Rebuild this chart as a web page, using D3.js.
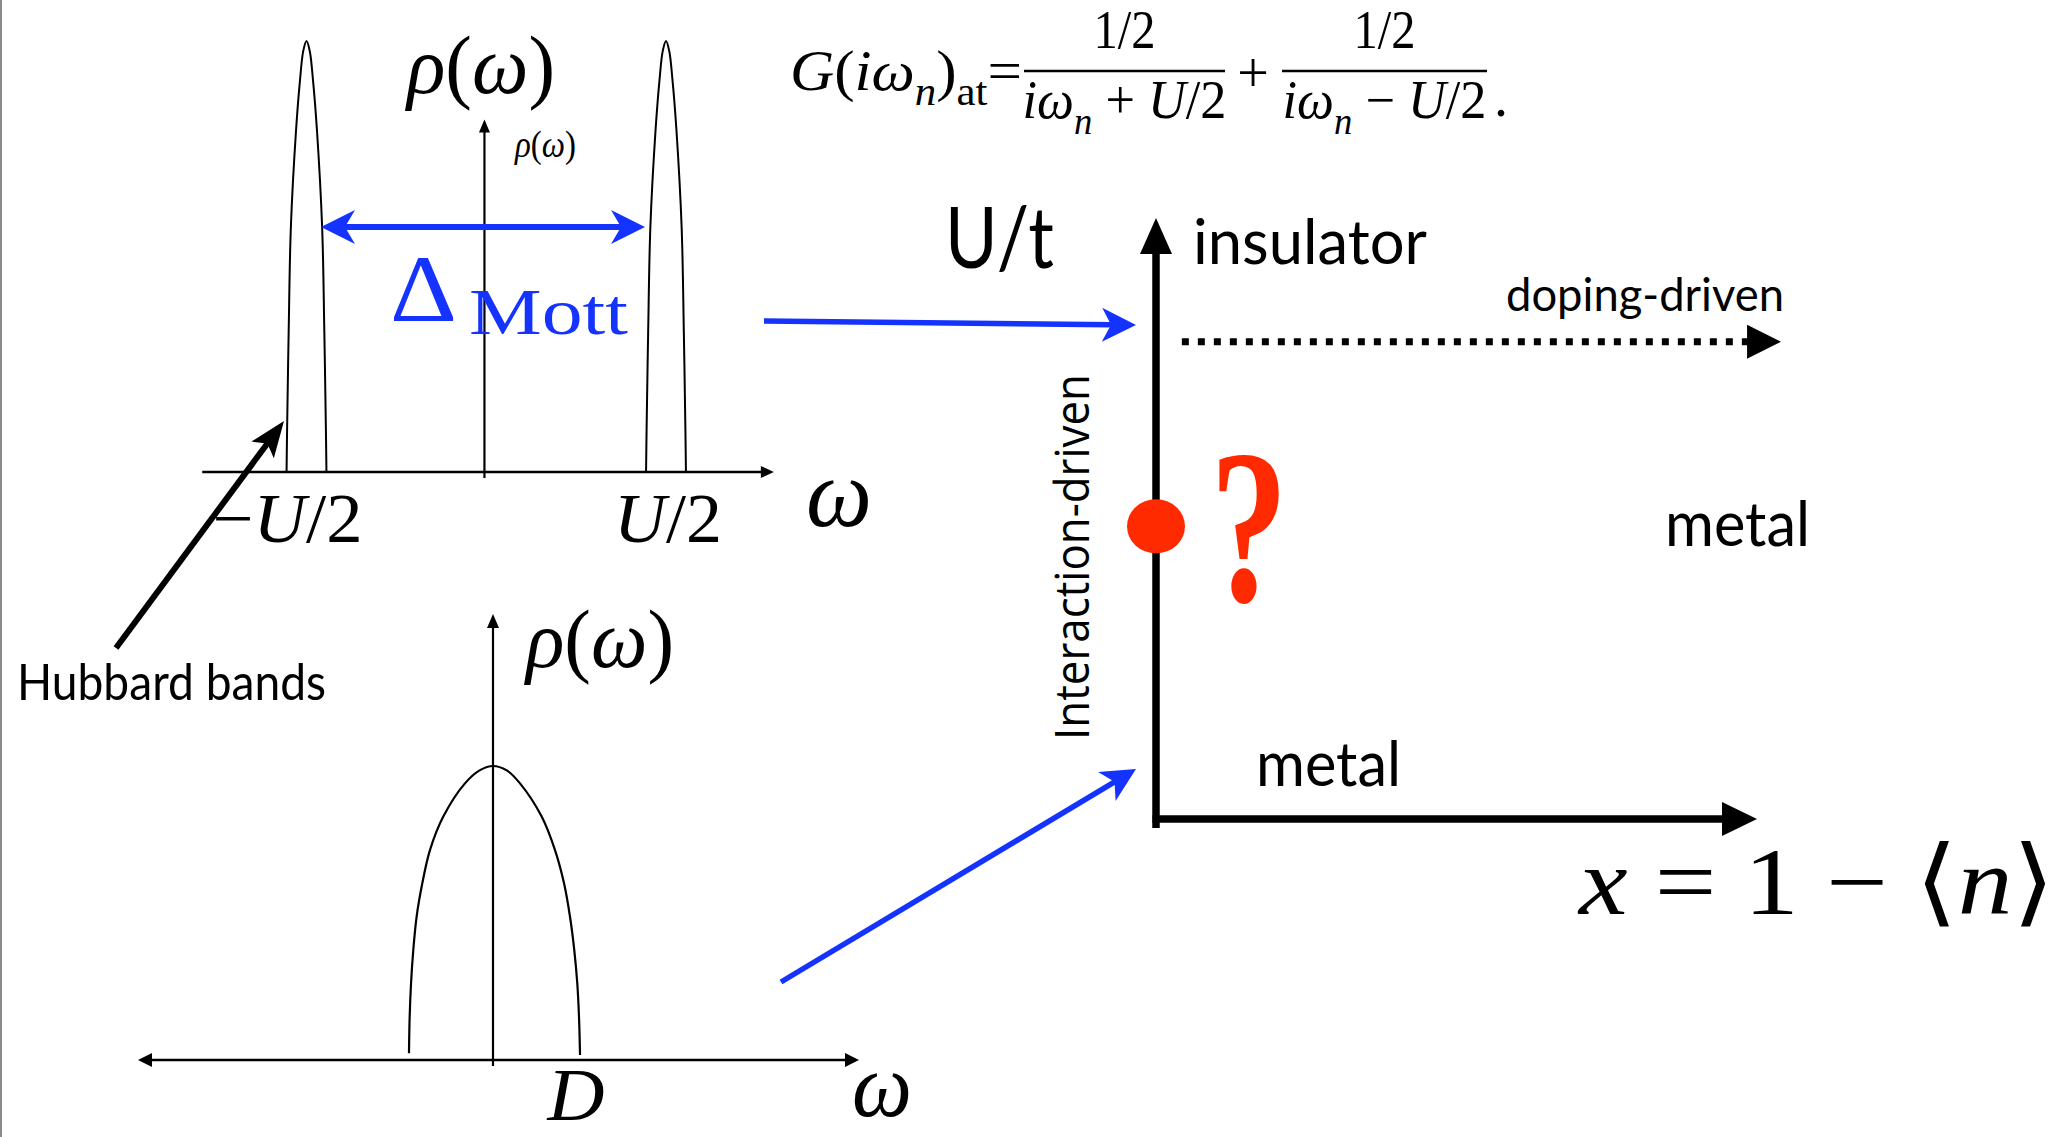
<!DOCTYPE html>
<html>
<head>
<meta charset="utf-8">
<script src="https://cdn.jsdelivr.net/npm/d3@7"></script>
<style>
  html, body { margin: 0; padding: 0; background: #fff; }
  svg { display: block; }
</style>
</head>
<body>
<svg id="chart" width="2072" height="1137"></svg>
<script>
// ---- data ----
// Hubbard bands: centres in units of U/2, shape of one band (offset, rho)
const hubbardCenters = [-1, 1]
const bandOffset = [-0.111, -0.108, -0.099, -0.087, -0.058, -0.036, -0.018, 0, 0.018, 0.036, 0.058, 0.087, 0.099, 0.108, 0.111]
const bandRho    = [0, 0.097, 0.33, 0.568, 0.794, 0.91, 0.977, 1, 0.977, 0.91, 0.794, 0.568, 0.33, 0.097, 0]
const topTickValues = [-1, 1]
const topTickLabels = [[["−", ""], ["U", "i"], ["/2", ""]], [["U", "i"], ["/2", ""]]]

// metallic band (omega in units of D)
const metalOmega = [-0.977, -0.969, -0.953, -0.927, -0.888, -0.822, -0.733, -0.578, -0.326, -0.151, 0, 0.16, 0.314, 0.566, 0.721, 0.826, 0.895, 0.945, 0.98, 1.0, 1.012]
const metalRho   = [0.023, 0.147, 0.261, 0.374, 0.488, 0.601, 0.714, 0.828, 0.941, 0.986, 1, 0.985, 0.941, 0.828, 0.714, 0.601, 0.488, 0.374, 0.261, 0.147, 0.017]
const botTickValues = [1]
const botTickLabels = ["D"]

// phase diagram: doping x, U/t (normalised)
const criticalX = [0]
const criticalU = [0.487]
const dopingArrowU = 0.794
const phaseLabels = ["insulator", "metal", "metal"]

const blue = "#1433ff", red = "#ff2a00"
const serif = "'Liberation Serif', 'DejaVu Serif', serif"
const sans = "Lato, 'Open Sans', sans-serif"

const svg = d3.select("#chart")
svg.append("rect").attr("width", 2072).attr("height", 1137).attr("fill", "#fff")
// thin grey edge on the left
svg.append("rect").attr("x", 0).attr("y", 0).attr("width", 2).attr("height", 1137).attr("fill", "#8a8a8a")

// arrow head, pointing at tip along angle ang
function head(g, tip, ang, len, half, notch, fill) {
    const c = Math.cos(ang), s = Math.sin(ang)
    const bx = tip[0] - c * len, by = tip[1] - s * len
    const p1 = [bx - s * half, by + c * half]
    const p2 = [bx + s * half, by - c * half]
    const n = [tip[0] - c * (len - notch), tip[1] - s * (len - notch)]
    g.append("path").attr("d", `M${tip}L${p1}L${n}L${p2}Z`).attr("fill", fill)
}

function arrow(g, from, to, {color = "#000", width = 2, len = 12, half = 6, notch = 0, dash = null, both = false} = {}) {
    const ang = Math.atan2(to[1] - from[1], to[0] - from[0])
    const back = len - notch - 1
    const end = [to[0] - Math.cos(ang) * back, to[1] - Math.sin(ang) * back]
    const start = both ? [from[0] + Math.cos(ang) * back, from[1] + Math.sin(ang) * back] : from
    const ln = g.append("line")
        .attr("x1", start[0]).attr("y1", start[1]).attr("x2", end[0]).attr("y2", end[1])
        .attr("stroke", color).attr("stroke-width", width)
    if (dash) ln.attr("stroke-dasharray", dash)
    head(g, to, ang, len, half, notch, color)
    if (both) head(g, from, ang + Math.PI, len, half, notch, color)
}

// math text built from tspans: style "i" italic, "s" subscript
function math(g, x, y, size, parts, {anchor = "start", len = null, fill = "#000", sub = 0.26} = {}) {
    const t = g.append("text").attr("x", x).attr("y", y)
        .attr("font-family", serif).attr("font-size", size)
        .attr("text-anchor", anchor).attr("fill", fill)
    let shift = 0
    parts.forEach(([s, st]) => {
        const sp = t.append("tspan").text(s)
        if (st.includes("i")) sp.attr("font-style", "italic")
        const want = st.includes("s") ? size * sub : 0
        if (want !== shift) { sp.attr("dy", want - shift); shift = want }
        if (st.includes("s")) sp.attr("font-size", size * 0.7)
    })
    if (len) t.attr("textLength", len).attr("lengthAdjust", "spacingAndGlyphs")
    return t
}

function label(g, x, y, s, size, len, {anchor = "start", family = sans, fill = "#000", rotate = 0, weight = null} = {}) {
    const t = g.append("text").attr("x", x).attr("y", y).text(s)
        .attr("font-family", family).attr("font-size", size)
        .attr("text-anchor", anchor).attr("fill", fill)
    if (weight) t.attr("font-weight", weight)
    if (len) t.attr("textLength", len).attr("lengthAdjust", "spacingAndGlyphs")
    if (rotate) t.attr("transform", `rotate(${rotate},${x},${y})`)
    return t
}

// ---- top panel: Hubbard bands ----
const gTop = svg.append("g")
const xTop = d3.scaleLinear().domain([-1, 1]).range([306.5, 666])
const yTop = d3.scaleLinear().domain([0, 1]).range([472, 41])

arrow(gTop, [xTop(-1.58), yTop(0)], [xTop(1.6), yTop(0)], {width: 2.5, len: 13, half: 6})
arrow(gTop, [xTop(-0.01), yTop(-0.014)], [xTop(-0.01), yTop(0.818)], {width: 2.2, len: 13, half: 5.5})

const bandLine = c => d3.line()
    .x((d, i) => xTop(c + bandOffset[i]))
    .y((d, i) => yTop(bandRho[i]))
    .curve(d3.curveCatmullRom.alpha(0.5))
hubbardCenters.forEach(c => {
    gTop.append("path").attr("d", bandLine(c)(bandOffset))
        .attr("fill", "none").attr("stroke", "#000").attr("stroke-width", 2)
})

topTickValues.forEach((v, i) => {
    math(gTop, xTop(v) + 56, 542, 70, topTickLabels[i], {anchor: "end", len: i === 0 ? 150 : 108})
})

math(gTop, 407, 93, 82, [["ρ", "i"], ["(", ""], ["ω", "i"], [")", ""]], {len: 148})
math(gTop, 515, 157, 38, [["ρ", "i"], ["(", ""], ["ω", "i"], [")", ""]], {len: 61})
math(gTop, 806, 526, 98, [["ω", "i"]], {len: 66})

// Mott gap
arrow(gTop, [321, 227], [645, 227], {color: blue, width: 6, len: 34, half: 17, notch: 10, both: true})
label(gTop, 390, 321, "Δ", 96, 67, {family: serif, fill: blue})
label(gTop, 469, 334, "Mott", 66, 159, {family: serif, fill: blue})

// Hubbard bands pointer
arrow(svg, [116, 648], [284, 421], {width: 6, len: 36, half: 14, notch: 8})
label(svg, 17, 700, "Hubbard bands", 50, 309)

// ---- formula ----
const gF = svg.append("g")
math(gF, 790, 90, 56, [["G", "i"], ["(", ""], ["i", "i"], ["ω", "i"], ["n", "is"], [")", ""], ["at", "s"], ["=", ""]], {len: 232})
const fracs = [{x0: 1024, x1: 1225, sign: " + "}, {x0: 1282, x1: 1487, sign: " − "}]
fracs.forEach(f => {
    gF.append("line").attr("x1", f.x0).attr("x2", f.x1).attr("y1", 71).attr("y2", 71)
        .attr("stroke", "#000").attr("stroke-width", 2.5)
    const cx = (f.x0 + f.x1) / 2
    math(gF, cx, 48, 54, [["1/2", ""]], {anchor: "middle", len: 62})
    math(gF, cx, 118, 54, [["i", "i"], ["ω", "i"], ["n", "is"], [f.sign, ""], ["U", "i"], ["/2", ""]], {anchor: "middle", len: 204, sub: 0.3})
})
math(gF, 1253, 92, 56, [["+", ""]], {anchor: "middle"})
math(gF, 1494, 116, 56, [[".", ""]])

// ---- bottom panel: metal ----
const gBot = svg.append("g")
const xBot = d3.scaleLinear().domain([-1, 1]).range([407, 579])
const yBot = d3.scaleLinear().domain([0, 1]).range([1060, 766])

arrow(gBot, [xBot(-4.128), yBot(0)], [xBot(4.256), yBot(0)], {width: 2.5, len: 14, half: 7, both: true})
arrow(gBot, [xBot(0), yBot(-0.02)], [xBot(0), yBot(1.517)], {width: 2.2, len: 14, half: 6})

const metalLine = d3.line()
    .x((d, i) => xBot(metalOmega[i]))
    .y((d, i) => yBot(metalRho[i]))
    .curve(d3.curveCatmullRom.alpha(0.5))
gBot.append("path").attr("d", metalLine(metalOmega))
    .attr("fill", "none").attr("stroke", "#000").attr("stroke-width", 2.2)

botTickValues.forEach((v, i) => {
    math(gBot, xBot(v) - 3, 1120, 74, [[botTickLabels[i], "i"]], {anchor: "middle", len: 57})
})
math(gBot, 526, 667, 82, [["ρ", "i"], ["(", ""], ["ω", "i"], [")", ""]], {len: 148})
math(gBot, 852, 1116, 90, [["ω", "i"]], {len: 60})

// ---- phase diagram ----
const gPh = svg.append("g")
const xPh = d3.scaleLinear().domain([0, 1]).range([1156, 1757])
const yPh = d3.scaleLinear().domain([0, 1]).range([819, 218])

arrow(gPh, [xPh(0), yPh(-0.015)], [xPh(0), yPh(1)], {width: 7.5, len: 36, half: 16})
arrow(gPh, [xPh(0) - 3.5, yPh(0)], [xPh(1), yPh(0)], {width: 7.5, len: 35, half: 17})
arrow(gPh, [xPh(0.043), yPh(dopingArrowU)], [xPh(1.04), yPh(dopingArrowU)], {width: 7, len: 34, half: 17, dash: "7 9"})

gPh.selectAll("ellipse.crit").data(criticalX).join("ellipse").attr("class", "crit")
    .attr("cx", d => xPh(d)).attr("cy", (d, i) => yPh(criticalU[i]))
    .attr("rx", 29).attr("ry", 27).attr("fill", red)
label(gPh, 1249, 601, "?", 220, 78, {family: serif, fill: red, anchor: "middle", weight: "bold"})

label(gPh, 945, 268, "U/t", 86, 109)
label(gPh, 1193, 264, phaseLabels[0], 62, 234)
label(gPh, 1506, 311, "doping-driven", 46, 278)
label(gPh, 1665, 546, phaseLabels[1], 62, 145)
label(gPh, 1256, 786, phaseLabels[2], 62, 145)
label(gPh, 1089, 557, "Interaction-driven", 48, 366, {anchor: "middle", rotate: -90, family: "'Open Sans', sans-serif"})
math(gPh, 1579, 914, 96, [["x", "i"], [" = 1 − ⟨", ""], ["n", "i"], ["⟩", ""]], {len: 476})

// blue arrows into the phase diagram
arrow(svg, [764, 321], [1136, 325], {color: blue, width: 5.5, len: 34, half: 17, notch: 9})
arrow(svg, [781, 982], [1136, 769], {color: blue, width: 5.5, len: 34, half: 17, notch: 9})
</script>
</body>
</html>
